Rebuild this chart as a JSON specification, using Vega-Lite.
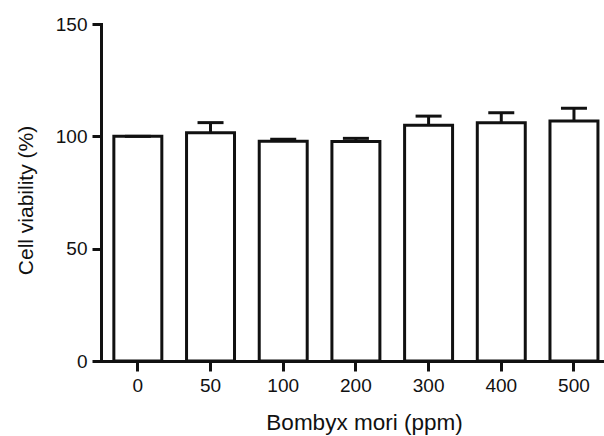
{
  "$schema": "https://vega.github.io/schema/vega-lite/v6.json",
  "width": 503,
  "height": 337,
  "autosize": "none",
  "padding": {"left": 101, "top": 24, "right": 0, "bottom": 75},
  "background": "white",
  "config": {
    "view": {"stroke": null},
    "axis": {
      "grid": false,
      "domainColor": "#111111",
      "domainWidth": 3,
      "domainCap": "square",
      "tickColor": "#111111",
      "tickWidth": 3,
      "tickSize": 10,
      "labelFont": "Liberation Sans",
      "labelFontSize": 19,
      "labelColor": "#111111",
      "titleFont": "Liberation Sans",
      "titleFontSize": 21,
      "titleFontWeight": "normal",
      "titleColor": "#111111"
    }
  },
  "data": {
    "values": [
      {"dose": "0", "mean": 100.0, "upper": 100.0},
      {"dose": "50", "mean": 101.6, "upper": 106.1},
      {"dose": "100", "mean": 97.8, "upper": 98.7},
      {"dose": "200", "mean": 97.7, "upper": 99.1},
      {"dose": "300", "mean": 104.9, "upper": 109.0},
      {"dose": "400", "mean": 106.1, "upper": 110.5},
      {"dose": "500", "mean": 106.8, "upper": 112.5}
    ]
  },
  "encoding": {
    "x": {
      "field": "dose",
      "type": "ordinal",
      "sort": null,
      "scale": {"paddingInner": 0.34, "paddingOuter": 0.13, "align": 0.68},
      "axis": {"title": "Bombyx mori (ppm)", "titleFontSize": 22.5, "titleX": 263, "labelAngle": 0, "labelPadding": 5, "titlePadding": 16}
    }
  },
  "layer": [
    {
      "mark": {"type": "bar", "fill": "white", "stroke": "#111111", "strokeWidth": 3},
      "encoding": {
        "y": {
          "field": "mean",
          "type": "quantitative",
          "scale": {"domain": [0, 150], "nice": false},
          "axis": {"title": "Cell viability (%)", "titleY": 176, "values": [0, 50, 100, 150], "tickSize": 9, "labelPadding": 5, "titlePadding": 19}
        }
      }
    },
    {
      "mark": {"type": "rule", "stroke": "#111111", "strokeWidth": 3},
      "encoding": {
        "y": {"field": "mean", "type": "quantitative"},
        "y2": {"field": "upper"}
      }
    },
    {
      "mark": {"type": "tick", "color": "#111111", "size": 26, "thickness": 3, "opacity": 1},
      "encoding": {
        "y": {"field": "upper", "type": "quantitative"}
      }
    }
  ]
}
